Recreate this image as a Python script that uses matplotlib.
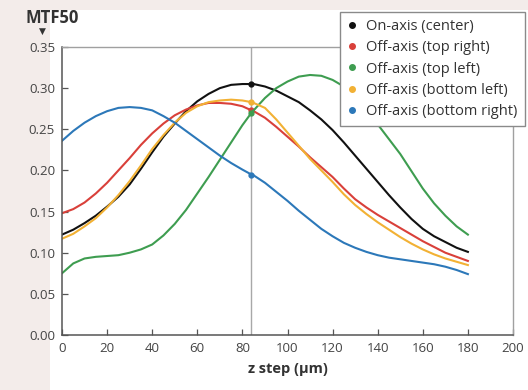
"""MTF50 versus z step for on-axis and off-axis field positions."""

import matplotlib
matplotlib.use("Agg")
import matplotlib.pyplot as plt
from matplotlib.lines import Line2D
from matplotlib.patches import Rectangle

plt.rcParams["font.family"] = ["Open Sans", "DejaVu Sans"]

# z step positions (um); 84 is the best-focus position marked on each curve
z_step = [0, 5, 10, 15, 20, 25, 30, 35, 40, 45, 50, 55, 60, 65, 70, 75, 80, 84, 85,
          90, 95, 100, 105, 110, 115, 120, 125, 130, 135, 140, 145, 150, 155, 160,
          165, 170, 175, 180]
focus_z = 84

center = [0.122, 0.128, 0.136, 0.145, 0.156, 0.168, 0.183, 0.202, 0.222, 0.241,
          0.257, 0.272, 0.284, 0.293, 0.300, 0.304, 0.305, 0.305, 0.305,
          0.302, 0.297, 0.290, 0.283, 0.273, 0.262, 0.249, 0.234, 0.218, 0.202,
          0.186, 0.170, 0.155, 0.141, 0.129, 0.120, 0.113, 0.106, 0.101]
top_right = [0.148, 0.153, 0.161, 0.172, 0.185, 0.200, 0.215, 0.231, 0.245, 0.257,
             0.267, 0.274, 0.279, 0.282, 0.282, 0.281, 0.278, 0.273, 0.272,
             0.264, 0.253, 0.241, 0.229, 0.216, 0.204, 0.192, 0.178, 0.165, 0.155,
             0.146, 0.138, 0.130, 0.122, 0.114, 0.107, 0.100, 0.095, 0.090]
top_left = [0.075, 0.087, 0.093, 0.095, 0.096, 0.097, 0.100, 0.104, 0.110, 0.121,
            0.135, 0.152, 0.172, 0.192, 0.213, 0.234, 0.255, 0.270, 0.273,
            0.288, 0.300, 0.308, 0.314, 0.316, 0.315, 0.310, 0.302, 0.290, 0.274,
            0.256, 0.238, 0.220, 0.199, 0.178, 0.160, 0.145, 0.132, 0.122]
bottom_left = [0.117, 0.123, 0.132, 0.142, 0.155, 0.170, 0.187, 0.206, 0.226, 0.243,
               0.258, 0.270, 0.278, 0.283, 0.285, 0.286, 0.285, 0.283, 0.282,
               0.276, 0.262, 0.246, 0.230, 0.214, 0.200, 0.186, 0.171, 0.158, 0.147,
               0.137, 0.128, 0.119, 0.111, 0.104, 0.098, 0.093, 0.089, 0.085]
bottom_right = [0.236, 0.248, 0.258, 0.266, 0.272, 0.276, 0.277, 0.276, 0.273, 0.266,
                0.258, 0.248, 0.238, 0.228, 0.218, 0.209, 0.201, 0.195, 0.194,
                0.185, 0.174, 0.163, 0.151, 0.140, 0.129, 0.120, 0.112, 0.106, 0.101,
                0.097, 0.094, 0.092, 0.090, 0.088, 0.086, 0.083, 0.079, 0.074]

labels = ["On-axis (center)", "Off-axis (top right)", "Off-axis (top left)",
          "Off-axis (bottom left)", "Off-axis (bottom right)"]
series = [center, top_right, top_left, bottom_left, bottom_right]
colors = ["#111111", "#d9403a", "#3e9d50", "#f2b134", "#2c78b9"]

x_ticks = list(range(0, 201, 20))
y_ticks = [0.00, 0.05, 0.10, 0.15, 0.20, 0.25, 0.30, 0.35]

fig = plt.figure(figsize=(5.28, 3.90), dpi=100, facecolor="#f3ecea")
# white page panel behind the chart
fig.patches.append(Rectangle((50 / 528, 0), 1, 380 / 390, transform=fig.transFigure,
                             facecolor="white", edgecolor="none", zorder=-5))
ax = fig.add_axes([62 / 528, 55 / 390, 451 / 528, 288 / 390])

ax.axvline(focus_z, color="#a8a8a8", lw=1.0, zorder=1)

mark_idx = z_step.index(focus_z)
for vals, col in zip(series, colors):
    ax.plot(z_step, vals, color=col, lw=1.5, zorder=2,
            marker="o", ms=3.5, markevery=[mark_idx])

ax.set_xlim(0, 200)
ax.set_ylim(0, 0.35)
ax.set_xticks(x_ticks)
ax.set_yticks(y_ticks)
ax.set_yticklabels([f"{v:.2f}" for v in y_ticks])
ax.tick_params(direction="in", length=4, width=0.9, color="#555555",
               labelcolor="#444444", labelsize=9.5, pad=5)

for side in ("left", "bottom"):
    ax.spines[side].set_color("#555555")
    ax.spines[side].set_linewidth(1.1)
for side in ("top", "right"):
    ax.spines[side].set_color("#a0a0a0")
    ax.spines[side].set_linewidth(1.0)

ax.set_xlabel("z step (µm)", fontsize=10.5, fontweight="bold", color="#333333", labelpad=5)

fig.text(52 / 528, 1 - 18 / 390, "MTF50", fontsize=12, fontweight="bold",
         color="#333333", ha="center", va="center")
fig.text(42 / 528, 1 - 31 / 390, "▼", fontsize=6.5, color="#333333",
         ha="center", va="center", family=["DejaVu Sans"])

handles = [Line2D([], [], ls="none", marker="o", ms=4, color=c) for c in colors]
leg = fig.legend(handles, labels, loc="upper right",
                 bbox_to_anchor=(525 / 528, 1 - 12 / 390), borderaxespad=0,
                 fontsize=10.5, frameon=True, fancybox=False, handlelength=0.6,
                 handletextpad=0.7, labelspacing=0.42, borderpad=0.5,
                 labelcolor="#333333")
leg.get_frame().set_edgecolor("#8a8a8a")
leg.get_frame().set_linewidth(1.0)
leg.get_frame().set_alpha(1)

fig.savefig("out.png", dpi=100, facecolor=fig.get_facecolor())
plt.close(fig)
